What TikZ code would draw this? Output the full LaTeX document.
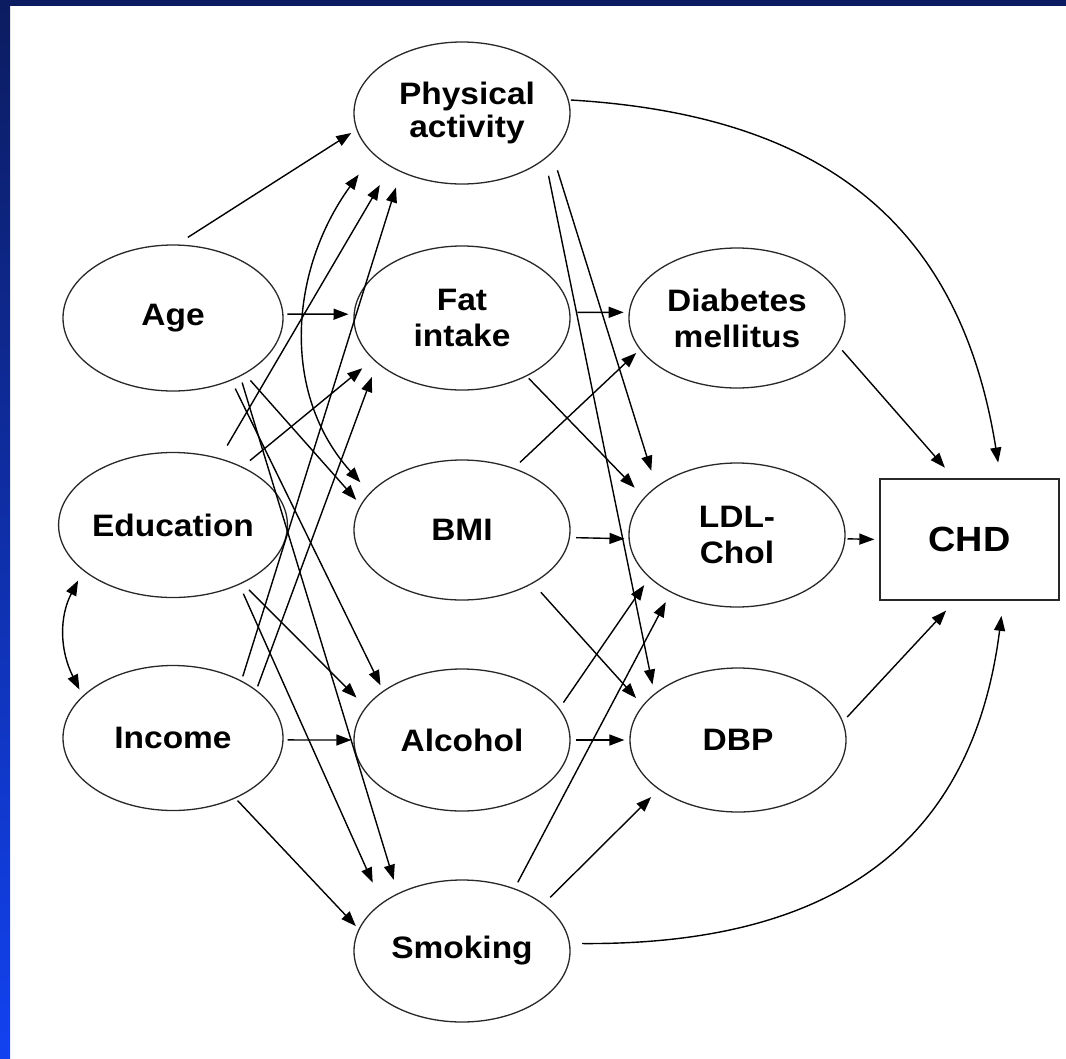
\documentclass[tikz,border=0pt]{standalone}
\usepackage{fontspec}
\newfontfamily\labfont{Liberation Sans}[FakeStretch=1.08]
\usetikzlibrary{shapes.geometric,arrows.meta}
\definecolor{navy}{RGB}{12,28,96}
\definecolor{brightblue}{RGB}{18,66,240}
\definecolor{edgegray}{RGB}{40,40,40}
\begin{document}
\begin{tikzpicture}[x=1pt,y=1pt,
  var/.style={ellipse, draw=edgegray, line width=1.3pt, inner sep=0pt, align=center, text=black,
    font=\labfont\bfseries\fontsize{31}{36}\selectfont},
  lft/.style={var, minimum width=220pt, minimum height=145pt},
  mid/.style={var, minimum width=216pt, minimum height=142pt},
  arr/.style={-{Triangle[length=15pt,width=11pt]}, line width=1.4pt, black},
  dbl/.style={{Triangle[length=15pt,width=11pt]}-{Triangle[length=15pt,width=11pt]}, line width=1.4pt, black}
]
% background and frame
\useasboundingbox (0,0) rectangle (1066,-1058);
\fill[white] (0,0) rectangle (1066,-1058);
\shade[top color=navy, bottom color=brightblue] (0,0) rectangle (10,-1058);
\fill[navy] (0,0) rectangle (1066,-6);

% nodes
\node[lft, minimum height=146pt] (age) at (173,-318) {Age};
\node[lft] (edu) at (173,-525) {Education};
\node[lft] (inc) at (173,-738) {Income};
\node[mid] (pa) at (462,-113) {\hspace*{10pt}Physical\\[-3pt]\hspace*{10pt}activity};
\node[mid, minimum height=144pt] (fat) at (462,-318) {Fat\\intake};
\node[mid, minimum height=140pt] (bmi) at (462,-530) {BMI};
\node[mid] (alc) at (462,-740) {Alcohol};
\node[mid] (smk) at (462,-951) {Smoking};
\node[mid, minimum height=140pt] (dm) at (737,-318) {Diabetes\\mellitus};
\node[mid, minimum height=144pt] (ldl) at (737,-535) {LDL-\\Chol};
\node[mid, minimum height=144pt] (dbp) at (738,-740) {DBP};
\node[rectangle, draw=edgegray, line width=1.3pt, minimum width=179pt, minimum height=121pt,
  font=\labfont\bfseries\fontsize{35}{40}\selectfont] (chd) at (969.5,-539.5) {CHD};

% connectors
\draw[arr, shorten <=13pt, shorten >=6pt] (age.87) -- (pa.189);
\draw[arr, shorten <=4pt, shorten >=5pt] (age.2) -- (fat.178);
\draw[arr, shorten <=8.6pt, shorten >=6.5pt] (age.-38) -- (bmi.166);
\draw[arr, shorten <=8.9pt, shorten >=6pt] (age.-47) -- (alc.148);
\draw[arr, shorten <=6.4pt, shorten >=14pt] (age.-41) -- (smk.138);
\draw[arr, shorten <=14.7pt, shorten >=21pt] (edu.55) -- (pa.217);
\draw[arr, shorten <=9.7pt, shorten >=13.7pt] (edu.40) -- (fat.205);
\draw[arr, shorten <=9.3pt, shorten >=13pt] (edu.-40) -- (alc.161);
\draw[arr, shorten <=9.8pt, shorten >=22pt] (edu.-42) -- (smk.149);
\draw[dbl, shorten <=11pt, shorten >=7pt] (edu.207) .. controls +(-24,-46) and +(-23,46) .. (inc.155);
\draw[arr, shorten <=4.4pt, shorten >=16pt] (inc.40) -- (pa.224);
\draw[arr, shorten <=3.8pt, shorten >=14.6pt] (inc.30) -- (fat.208);
\draw[arr, shorten <=4pt, shorten >=2pt] (inc.-1) -- (alc.180);
\draw[arr, shorten <=3pt, shorten >=4pt] (inc.-44) -- (smk.168);
\draw[dbl, shorten <=25pt, shorten >=14pt] (pa.205) .. controls +(-84,-116) and +(-89,99) .. (bmi.158);
\draw[arr, shorten <=18pt, shorten >=16.4pt] (pa.-24) -- (ldl.149);
\draw[arr, shorten <=17pt, shorten >=9.3pt] (pa.-29) -- (dbp.151);
\draw[arr, shorten <=2pt, shorten >=16pt] (pa.7) .. controls +(252,-15) and +(-41,257) .. (chd.63);
\draw[arr, shorten <=7pt, shorten >=5pt] (fat.3) -- (dm.177);
\draw[arr, shorten <=2.8pt, shorten >=13.5pt] (fat.-42) -- (ldl.158);
\draw[arr, shorten <=8.2pt, shorten >=5pt] (bmi.50) -- (dm.198);
\draw[arr, shorten <=6pt, shorten >=4pt] (bmi.-4) -- (ldl.182);
\draw[arr, shorten <=11.8pt, shorten >=9.7pt] (bmi.-37) -- (dbp.160);
\draw[arr, shorten <=7pt, shorten >=8.9pt] (alc.18) -- (ldl.206);
\draw[arr, shorten <=5pt, shorten >=5pt] (alc.0) -- (dbp.180);
\draw[arr, shorten <=6.8pt, shorten >=10.7pt] (smk.50) -- (ldl.221);
\draw[arr, shorten <=9.1pt, shorten >=10.6pt] (smk.30) -- (dbp.212);
\draw[arr, shorten <=12pt, shorten >=15.3pt] (smk.4) .. controls +(290,-2) and +(-28,-220) .. (chd.-61);
\draw[arr, shorten <=7.2pt, shorten >=14.2pt] (dm.-15) -- (chd.104);
\draw[arr, shorten <=2pt, shorten >=5pt] (ldl.-2) -- (chd.west);
\draw[arr, shorten <=6pt, shorten >=13.6pt] (dbp.10) -- (chd.257);
\end{tikzpicture}
\end{document}
